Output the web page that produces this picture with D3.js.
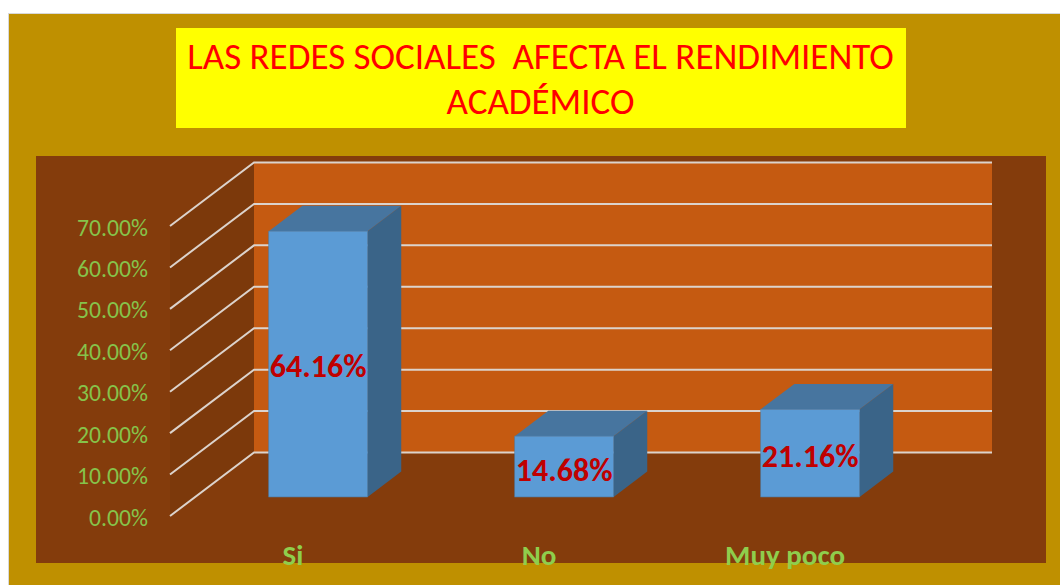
<!DOCTYPE html>
<html><head><meta charset="utf-8">
<script src="https://cdnjs.cloudflare.com/ajax/libs/d3/7.8.5/d3.min.js"></script>
<style>html,body{margin:0;padding:0;background:#fff;overflow:hidden}svg{display:block}</style>
</head><body><svg id="c" width="1060" height="585"></svg>
<script>
const categories = ["Si", "No", "Muy poco"];
const values = [64.16, 14.68, 21.16];
const valueLabels = ["64.16%", "14.68%", "21.16%"];
const yTicks = [0, 10, 20, 30, 40, 50, 60, 70];
const titleLines = ["LAS REDES SOCIALES  AFECTA EL RENDIMIENTO", "ACADÉMICO"];

const svg = d3.select("#c");
const font = "Carlito, Lato, 'Open Sans', sans-serif";

// frame
svg.append("rect").attr("x", 8.5).attr("y", 13.5).attr("width", 1060).attr("height", 600)
  .attr("fill", "#bf9000").attr("stroke", "#d8d8d8").attr("stroke-width", 1);
svg.append("rect").attr("x", 176).attr("y", 28).attr("width", 730).attr("height", 100).attr("fill", "#ffff00");
svg.append("g").selectAll("text").data(titleLines).join("text")
  .attr("x", 540.5).attr("y", (d, i) => 69 + i * 45)
  .attr("text-anchor", "middle").attr("fill", "#ff0000")
  .attr("font-family", font).attr("font-size", 37).attr("xml:space", "preserve")
  .style("white-space", "pre").text(d => d);

// plot area
svg.append("rect").attr("x", 36).attr("y", 156).attr("width", 1010).attr("height", 407).attr("fill", "#843c0c");

// 3D projection
const depthX = 84, depthY = 63.5;
const x = d3.scaleBand().domain(categories).range([170, 908]).paddingInner(0).paddingOuter(0);
const y = d3.scaleLinear().domain([0, 70]).range([516, 226]);
const px = (xv, d) => xv + d * depthX;
const py = (v, d) => y(v) - d * depthY;
const pts = a => a.map(p => p.join(",")).join(" ");

// walls
svg.append("polygon").attr("fill", "#7c390b")
  .attr("points", pts([[px(170,0),py(70,0)],[px(170,1),py(70,1)],[px(170,1),py(0,1)],[px(170,0),py(0,0)]]));
svg.append("rect").attr("x", px(170,1)).attr("y", py(70,1))
  .attr("width", 738).attr("height", y(0) - y(70)).attr("fill", "#c55a11");

// gridlines
const grid = svg.append("g").attr("fill", "none").attr("stroke", "#dcd3cc").attr("stroke-width", 2);
grid.selectAll("polyline").data(yTicks).join("polyline")
  .attr("points", v => pts([[px(170,0),py(v,0)],[px(170,1),py(v,1)],[px(908,1),py(v,1)]]));

// y axis
const axis = svg.append("g").attr("transform", "translate(148,1.5)")
  .call(d3.axisLeft(y).tickValues(yTicks).tickSize(0).tickPadding(0).tickFormat(d => d3.format(".2f")(d) + "%"));
axis.select(".domain").remove();
axis.selectAll("text").attr("fill", "#86c34a").attr("font-family", font).attr("font-size", 23.7);

// bars
const barFrac = 0.402, d0 = 0.3, d1 = 0.7;
const bars = svg.append("g").selectAll("g").data(categories.map((c, i) => ({c, v: values[i], l: valueLabels[i]}))).join("g");
const bx0 = d => x(d.c) + x.bandwidth() * (1 - barFrac) / 2 + d0 * depthX;
const bw = x.bandwidth() * barFrac;
bars.append("polygon").attr("fill", "#47759f")
  .attr("points", d => { const a = bx0(d), t = y(d.v) - d0 * depthY, dx = (d1-d0)*depthX, dy = (d1-d0)*depthY;
    return pts([[a,t],[a+dx,t-dy],[a+bw+dx,t-dy],[a+bw,t]]); });
bars.append("polygon").attr("fill", "#3a6488")
  .attr("points", d => { const a = bx0(d)+bw, t = y(d.v) - d0 * depthY, b = y(0) - d0 * depthY, dx = (d1-d0)*depthX, dy = (d1-d0)*depthY;
    return pts([[a,t],[a+dx,t-dy],[a+dx,b-dy],[a,b]]); });
bars.append("rect").attr("x", bx0).attr("y", d => y(d.v) - d0 * depthY).attr("width", bw)
  .attr("height", d => y(0) - y(d.v)).attr("fill", "#5b9bd5").attr("stroke", "#4a80b0").attr("stroke-width", 0.6);
const labelY = [377, 481, 467];
bars.append("text").attr("x", d => bx0(d) + bw / 2).attr("y", (d, i) => labelY[i])
  .attr("text-anchor", "middle").attr("fill", "#c00000").attr("font-family", font)
  .attr("font-weight", 700).attr("font-size", 32).text(d => d.l);

// category labels
svg.append("g").selectAll("text").data(categories).join("text")
  .attr("x", d => x(d) + x.bandwidth() / 2).attr("y", 565)
  .attr("text-anchor", "middle").attr("fill", "#8fce4c").attr("font-family", font)
  .attr("font-weight", 700).attr("font-size", 29).text(d => d);
</script></body></html>
